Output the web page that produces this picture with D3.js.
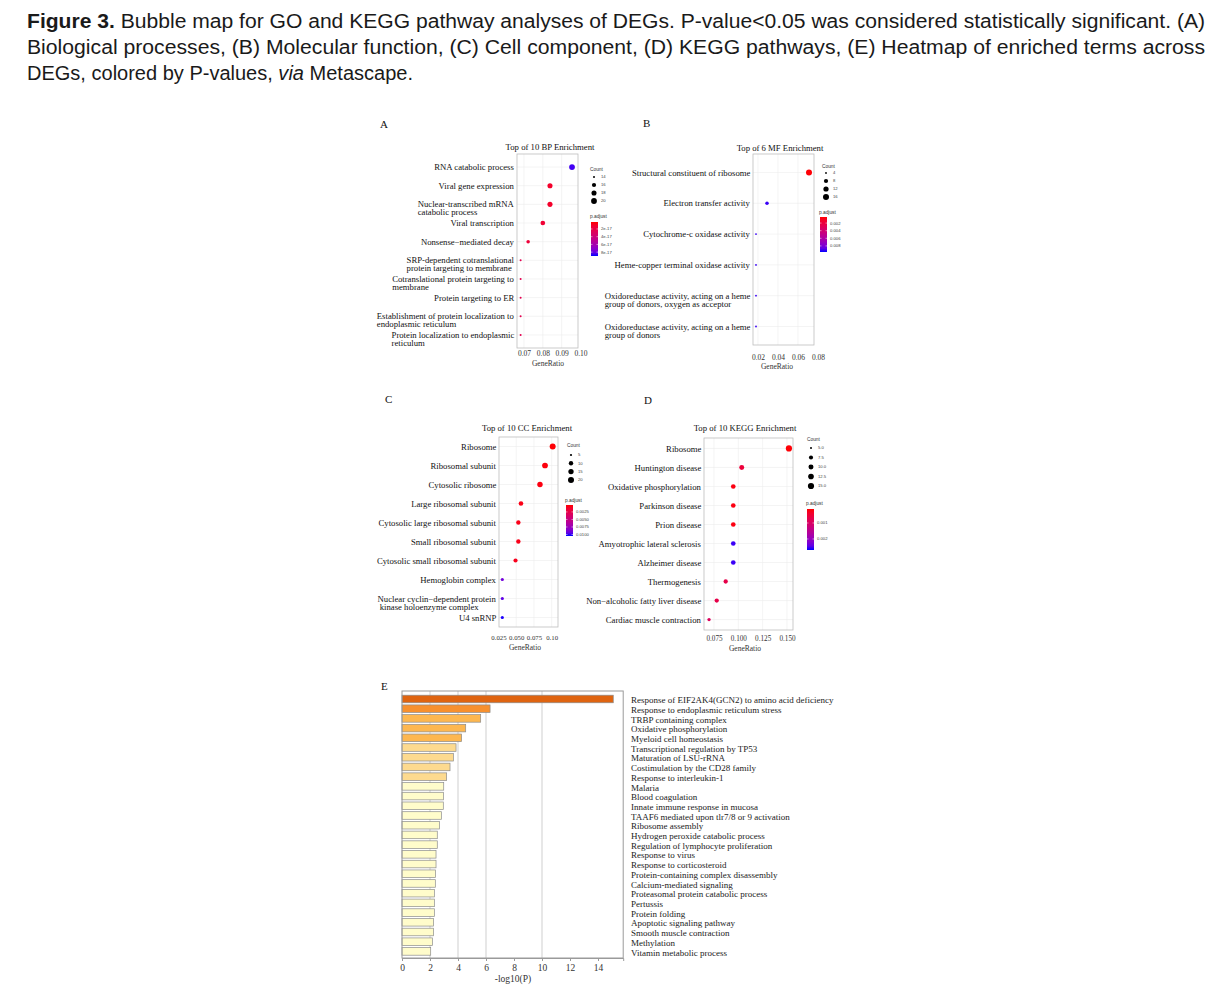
<!DOCTYPE html>
<html><head><meta charset="utf-8">
<script src="https://cdn.jsdelivr.net/npm/d3@7"></script>
<style>body{margin:0;background:#fff}svg{display:block}</style>
</head><body>
<svg id="fig" width="1219" height="1004"></svg>
<script>
// ---------------- DATA ----------------
const bpTerms = ["RNA catabolic process","Viral gene expression","Nuclear-transcribed mRNA\ncatabolic process","Viral transcription","Nonsense\u2212mediated decay","SRP-dependent cotranslational\nprotein targeting to membrane","Cotranslational protein targeting to\nmembrane","Protein targeting to ER","Establishment of protein localization to\nendoplasmic reticulum","Protein localization to endoplasmic\nreticulum"];
const bpGeneRatio = [0.0955,0.0838,0.0838,0.0800,0.0722,0.0682,0.0682,0.0682,0.0682,0.0682];
const bpCount = [20,18,18,17,15,14,14,14,14,14];
const bpPadj = [8.6e-17,1.1e-17,1.1e-17,1.4e-17,1.6e-17,2.4e-17,2.4e-17,2.4e-17,2.4e-17,2.4e-17];
const bpXTicks = [0.07,0.08,0.09,0.10];
const bpXTickLabels = ["0.07","0.08","0.09","0.10"];
const bpCountBreaks = [14,16,18,20];
const bpPadjBreaks = [2e-17,4e-17,6e-17,8e-17];
const bpPadjLabels = ["2e-17","4e-17","6e-17","8e-17"];

const mfTerms = ["Structural constituent of ribosome","Electron transfer activity","Cytochrome-c oxidase activity","Heme-copper terminal oxidase activity","Oxidoreductase activity, acting on a heme\ngroup of donors, oxygen as acceptor","Oxidoreductase activity, acting on a heme\ngroup of donors"];
const mfGeneRatio = [0.071,0.029,0.018,0.018,0.018,0.018];
const mfCount = [16,6,4,4,4,4];
const mfPadj = [0.0005,0.0093,0.0093,0.0093,0.0093,0.0093];
const mfXTicks = [0.02,0.04,0.06,0.08];
const mfXTickLabels = ["0.02","0.04","0.06","0.08"];
const mfCountBreaks = [4,8,12,16];
const mfPadjBreaks = [0.002,0.004,0.006,0.008];
const mfPadjLabels = ["0.002","0.004","0.006","0.008"];

const ccTerms = ["Ribosome","Ribosomal subunit","Cytosolic ribosome","Large ribosomal subunit","Cytosolic large ribosomal subunit","Small ribosomal subunit","Cytosolic small ribosomal subunit","Hemoglobin complex","Nuclear cyclin\u2212dependent protein\n kinase holoenzyme complex","U4 snRNP"];
const ccGeneRatio = [0.1014,0.0906,0.0835,0.0567,0.0530,0.0530,0.0490,0.0304,0.0304,0.0304];
const ccCount = [20,18,16,11,10,10,9,6,6,6];
const ccPadj = [0.0003,0.0004,0.0005,0.0006,0.0007,0.0007,0.0008,0.0090,0.0095,0.0104];
const ccXTicks = [0.025,0.05,0.075,0.10];
const ccXTickLabels = ["0.025","0.050","0.075","0.10"];
const ccCountBreaks = [5,10,15,20];
const ccPadjBreaks = [0.0025,0.005,0.0075,0.01];
const ccPadjLabels = ["0.0025","0.0050","0.0075","0.0100"];

const keggTerms = ["Ribosome","Huntington disease","Oxidative phosphorylation","Parkinson disease","Prion disease","Amyotrophic lateral sclerosis","Alzheimer disease","Thermogenesis","Non\u2212alcoholic fatty liver disease","Cardiac muscle contraction"];
const keggGeneRatio = [0.152,0.1035,0.0948,0.0948,0.0948,0.0948,0.0948,0.087,0.0778,0.0699];
const keggCount = [15,10,9,9,9,9,9,8,8,6];
const keggPadj = [0.00015,0.00055,0.0002,0.0002,0.0002,0.0026,0.0026,0.0007,0.0007,0.0009];
const keggXTicks = [0.075,0.10,0.125,0.15];
const keggXTickLabels = ["0.075","0.100","0.125","0.150"];
const keggCountBreaks = [5,7.5,10,12.5,15];
const keggCountLabels = ["5.0","7.5","10.0","12.5","15.0"];
const keggPadjBreaks = [0.001,0.002];
const keggPadjLabels = ["0.001","0.002"];

const metaTerms = ["Response of EIF2AK4(GCN2) to amino acid deficiency","Response to endoplasmic reticulum stress","TRBP containing complex","Oxidative phosphorylation","Myeloid cell homeostasis","Transcriptional regulation by TP53","Maturation of LSU-rRNA","Costimulation by the CD28 family","Response to interleukin-1","Malaria","Blood coagulation","Innate immune response in mucosa","TAAF6 mediated upon tlr7/8 or 9 activation","Ribosome assembly","Hydrogen peroxide catabolic process","Regulation of lymphocyte proliferation","Response to virus","Response to corticosteroid","Protein-containing complex disassembly","Calcium-mediated signaling","Proteasomal protein catabolic process","Pertussis","Protein folding","Apoptotic signaling pathway","Smooth muscle contraction","Methylation","Vitamin metabolic process"];
const metaLogP = [15.09,6.29,5.62,4.55,4.26,3.86,3.67,3.43,3.19,2.98,2.96,2.95,2.81,2.67,2.52,2.52,2.43,2.43,2.40,2.38,2.31,2.31,2.31,2.26,2.26,2.17,2.05];
const metaXTicks = [0,2,4,6,8,10,12,14];
const metaGrid = [2,4,6,10];
const metaBins = [3,4,6,10];
const metaBinColors = ["#fffccb","#fdda8f","#fdb750","#f7902e","#df6410"];

const captionLines = [
  [{t:"Figure 3.",b:true},{t:" Bubble map for GO and KEGG pathway analyses of DEGs. P-value<0.05 was considered statistically significant. (A)"}],
  [{t:"Biological processes, (B) Molecular function, (C) Cell component, (D) KEGG pathways, (E) Heatmap of enriched terms across"}],
  [{t:"DEGs, colored by P-values, "},{t:"via",i:true},{t:" Metascape."}]
];

// ---------------- DRAW ----------------
const SERIF = "'Liberation Serif','Times New Roman',serif";
const SANS = "'Liberation Sans',Arial,sans-serif";
const NARROW = "'Liberation Sans Narrow','Arial Narrow','Liberation Sans',Arial,sans-serif";
const svg = d3.select("#fig");
svg.append("rect").attr("width",1219).attr("height",1004).attr("fill","#fff");

// caption
const capW = [1178,1178,386];
const capY = [28,54,80];
captionLines.forEach((parts,li)=>{
  const t = svg.append("text").attr("x",27).attr("y",capY[li])
    .attr("font-family",NARROW).attr("font-size",19.5).attr("fill","#1a1a1a")
    .attr("textLength",capW[li]).attr("lengthAdjust","spacingAndGlyphs");
  parts.forEach(p=>{
    const s = t.append("tspan").text(p.t);
    if(p.b) s.attr("font-weight","bold");
    if(p.i) s.attr("font-style","italic");
  });
});

function sizeScale(domain, range){
  const norm = d3.scaleLinear().domain(domain).range([0,1]).clamp(true);
  const r = d3.scaleLinear().domain([0,1]).range(range);
  return v => r(Math.sqrt(norm(v)));
}

let gradId = 0;
function bubblePanel(c){
  const g = svg.append("g");
  const x = d3.scaleLinear().domain(c.xDomain).range([c.x0,c.x1]);
  const y = d3.scalePoint().domain(c.terms).range([c.y0,c.y1]).padding(c.pad);
  const col = d3.scaleLinear().domain(c.padjDomain).range(["#ff0000","#0000ff"]).interpolate(d3.interpolateLab).clamp(true);
  const rs = sizeScale(c.countDomain, c.sizeRange);

  g.append("text").attr("x",c.letter[0]).attr("y",c.letter[1]).text(c.letterText)
    .attr("font-family",SERIF).attr("font-size",11).attr("fill","#111");
  g.append("text").attr("x",c.titleX).attr("y",c.titleY).attr("text-anchor","middle").text(c.title)
    .attr("font-family",SERIF).attr("font-size",8.7).attr("fill","#111");

  g.append("rect").attr("x",c.x0).attr("y",c.y0).attr("width",c.x1-c.x0).attr("height",c.y1-c.y0).attr("fill","#fff");
  const grid = g.append("g").attr("stroke","#ededed").attr("stroke-width",0.6);
  grid.selectAll("line.h").data(c.terms).enter().append("line").attr("class","h")
    .attr("x1",c.x0).attr("x2",c.x1).attr("y1",d=>y(d)).attr("y2",d=>y(d));
  grid.selectAll("line.v").data(c.xTicks.filter(v=>x(v)>c.x0 && x(v)<c.x1)).enter().append("line").attr("class","v")
    .attr("y1",c.y0).attr("y2",c.y1).attr("x1",d=>x(d)).attr("x2",d=>x(d));
  g.append("rect").attr("x",c.x0).attr("y",c.y0).attr("width",c.x1-c.x0).attr("height",c.y1-c.y0)
    .attr("fill","none").attr("stroke","#bdbdbd").attr("stroke-width",0.8);

  const pts = c.terms.map((t,i)=>({t, r:c.ratio[i], n:c.count[i], p:c.padj[i]}));
  g.selectAll("circle.pt").data(pts).enter().append("circle").attr("class","pt")
    .attr("cx",d=>x(d.r)).attr("cy",d=>y(d.t)).attr("r",d=>rs(d.n)).attr("fill",d=>col(d.p));

  // y labels
  c.terms.forEach(t=>{
    const lines = t.split("\n");
    const tx = g.append("text").attr("font-family",SERIF).attr("font-size",c.labelSize).attr("fill","#111");
    lines.forEach((l,k)=>tx.append("tspan").attr("x",0).attr("y",y(t)+k*c.lineH).attr("dy","0.35em").attr("xml:space","preserve").text(l));
    const w = tx.node().getBBox().width;
    tx.attr("transform",`translate(${c.x0-2.5-w},0)`);
  });

  // x axis
  const ax = g.append("g").attr("transform",`translate(0,${c.y1})`)
    .call(d3.axisBottom(x).tickValues(c.xTicks).tickFormat((d,i)=>c.xTickLabels[i]).tickSize(0).tickPadding(c.tickPad));
  ax.select(".domain").remove();
  ax.selectAll("text").attr("font-family",SERIF).attr("font-size",c.tickSize).attr("fill","#333");
  g.append("text").attr("x",c.axisTitleX).attr("y",c.axisTitleY).attr("text-anchor","middle").text("GeneRatio")
    .attr("font-family",SERIF).attr("font-size",7.5).attr("fill","#333");

  // count legend
  const L = c.legend;
  g.append("text").attr("x",L.cx-4).attr("y",L.countTitleY).text("Count")
    .attr("font-family",SANS).attr("font-size",4.8).attr("fill","#333");
  g.selectAll("circle.lg").data(c.countBreaks).enter().append("circle").attr("class","lg")
    .attr("cx",L.cx).attr("cy",(d,i)=>L.dotY0+i*L.dotStep).attr("r",d=>rs(d)).attr("fill","#000");
  g.selectAll("text.lg").data(c.countBreaks).enter().append("text").attr("class","lg")
    .attr("x",L.cx+7).attr("y",(d,i)=>L.dotY0+i*L.dotStep).attr("dy","0.35em")
    .text((d,i)=>c.countLabels[i]).attr("font-family",SANS).attr("font-size",4.2).attr("fill","#444");

  // p.adjust colorbar
  const id = "grad"+(gradId++);
  const gr = svg.append("defs").append("linearGradient").attr("id",id).attr("x1",0).attr("x2",0).attr("y1",0).attr("y2",1);
  d3.range(0,1.0001,0.1).forEach(f=>{
    gr.append("stop").attr("offset",f).attr("stop-color",col(c.padjDomain[0]+f*(c.padjDomain[1]-c.padjDomain[0])));
  });
  const bs = d3.scaleLinear().domain(c.padjDomain).range([L.barY0,L.barY1]);
  g.append("text").attr("x",L.barX-1).attr("y",L.padjTitleY).text("p.adjust")
    .attr("font-family",SANS).attr("font-size",4.8).attr("fill","#333");
  g.append("rect").attr("x",L.barX).attr("y",L.barY0).attr("width",7).attr("height",L.barY1-L.barY0).attr("fill",`url(#${id})`);
  g.selectAll("line.bt").data(c.padjBreaks).enter().append("line").attr("class","bt")
    .attr("x1",L.barX).attr("x2",L.barX+1.5).attr("y1",d=>bs(d)).attr("y2",d=>bs(d)).attr("stroke","#fff").attr("stroke-width",0.5);
  g.selectAll("line.bt2").data(c.padjBreaks).enter().append("line").attr("class","bt2")
    .attr("x1",L.barX+5.5).attr("x2",L.barX+7).attr("y1",d=>bs(d)).attr("y2",d=>bs(d)).attr("stroke","#fff").attr("stroke-width",0.5);
  g.selectAll("text.bl").data(c.padjBreaks).enter().append("text").attr("class","bl")
    .attr("x",L.barX+10).attr("y",d=>bs(d)).attr("dy","0.35em").text((d,i)=>c.padjLabels[i])
    .attr("font-family",SANS).attr("font-size",4.2).attr("fill","#444");
}

bubblePanel({
  letterText:"A", letter:[380,128], title:"Top of 10 BP Enrichment", titleX:550, titleY:150,
  terms:bpTerms, ratio:bpGeneRatio, count:bpCount, padj:bpPadj,
  x0:517, x1:578, y0:154, y1:348, pad:0.7, xDomain:[0.06628,0.09868],
  xTicks:bpXTicks, xTickLabels:bpXTickLabels, tickPad:3, tickSize:7.5, axisTitleX:548, axisTitleY:366,
  labelSize:8.7, lineH:8,
  padjDomain:[0.2e-17,9.0e-17], countDomain:[14,20], sizeRange:[1.0,2.9],
  countBreaks:bpCountBreaks, countLabels:bpCountBreaks.map(String),
  padjBreaks:bpPadjBreaks, padjLabels:bpPadjLabels,
  legend:{cx:594, countTitleY:171, dotY0:177, dotStep:8, barX:591, padjTitleY:218, barY0:222, barY1:256}
});
bubblePanel({
  letterText:"B", letter:[643,126.5], title:"Top of 6 MF Enrichment", titleX:780, titleY:151,
  terms:mfTerms, ratio:mfGeneRatio, count:mfCount, padj:mfPadj,
  x0:753, x1:814, y0:154, y1:345, pad:0.6, xDomain:[0.015,0.076],
  xTicks:mfXTicks, xTickLabels:mfXTickLabels, tickPad:10, tickSize:7.5, axisTitleX:777, axisTitleY:369,
  labelSize:8.7, lineH:8,
  padjDomain:[0.0004,0.0096], countDomain:[4,16], sizeRange:[0.9,3.0],
  countBreaks:mfCountBreaks, countLabels:mfCountBreaks.map(String),
  padjBreaks:mfPadjBreaks, padjLabels:mfPadjLabels,
  legend:{cx:826, countTitleY:168, dotY0:173, dotStep:8, barX:820, padjTitleY:214, barY0:217, barY1:252}
});
bubblePanel({
  letterText:"C", letter:[385,403], title:"Top of 10 CC Enrichment", titleX:527, titleY:431,
  terms:ccTerms, ratio:ccGeneRatio, count:ccCount, padj:ccPadj,
  x0:499, x1:558, y0:437, y1:627, pad:0.5, xDomain:[0.02571,0.10892],
  xTicks:ccXTicks, xTickLabels:ccXTickLabels, tickPad:8, tickSize:6.8, axisTitleX:525, axisTitleY:650,
  labelSize:8.7, lineH:8,
  padjDomain:[0.0002,0.0105], countDomain:[5,20], sizeRange:[1.1,3.0],
  countBreaks:ccCountBreaks, countLabels:ccCountBreaks.map(String),
  padjBreaks:ccPadjBreaks, padjLabels:ccPadjLabels,
  legend:{cx:571, countTitleY:447, dotY0:455, dotStep:8.3, barX:566, padjTitleY:502, barY0:505, barY1:536}
});
bubblePanel({
  letterText:"D", letter:[644,404], title:"Top of 10 KEGG Enrichment", titleX:745, titleY:431,
  terms:keggTerms, ratio:keggGeneRatio, count:keggCount, padj:keggPadj,
  x0:704, x1:793, y0:438, y1:630, pad:0.55, xDomain:[0.06472,0.15619],
  xTicks:keggXTicks, xTickLabels:keggXTickLabels, tickPad:6, tickSize:7.2, axisTitleX:745, axisTitleY:651,
  labelSize:8.7, lineH:8,
  padjDomain:[0.000125,0.00269], countDomain:[5,15], sizeRange:[1.0,3.1],
  countBreaks:keggCountBreaks, countLabels:keggCountLabels,
  padjBreaks:keggPadjBreaks, padjLabels:keggPadjLabels,
  legend:{cx:811, countTitleY:441, dotY0:448, dotStep:9.5, barX:807, padjTitleY:505, barY0:509, barY1:550}
});

// ---------------- PANEL E ----------------
(function(){
  const g = svg.append("g");
  const X0 = 402, X1 = 623.2, Y0 = 691, Y1 = 958;
  const x = d3.scaleLinear().domain([0,15.8]).range([X0,X1]);
  const y = d3.scaleBand().domain(metaTerms).range([695.2,955.2]).paddingInner(0.22);
  const color = d3.scaleThreshold().domain(metaBins).range(metaBinColors);

  g.append("text").attr("x",381).attr("y",690).text("E").attr("font-family",SERIF).attr("font-size",11).attr("fill","#111");
  g.selectAll("line.gr").data(metaGrid).enter().append("line").attr("class","gr")
    .attr("x1",d=>x(d)).attr("x2",d=>x(d)).attr("y1",Y0).attr("y2",Y1).attr("stroke","#cfcfcf").attr("stroke-width",1);
  g.selectAll("rect.bar").data(metaTerms).enter().append("rect").attr("class","bar")
    .attr("x",x(0)).attr("y",d=>y(d)).attr("height",y.bandwidth())
    .attr("width",(d,i)=>x(metaLogP[i])-x(0))
    .attr("fill",(d,i)=>color(metaLogP[i])).attr("stroke","#8c8c8c").attr("stroke-width",0.7);
  g.append("rect").attr("x",X0).attr("y",Y0).attr("width",X1-X0).attr("height",Y1-Y0)
    .attr("fill","none").attr("stroke","#9a9a9a").attr("stroke-width",1);
  const ax = g.append("g").attr("transform",`translate(0,${Y1})`)
    .call(d3.axisBottom(x).tickValues(metaXTicks).tickFormat(d3.format("d")).tickSize(3).tickPadding(3));
  ax.select(".domain").attr("stroke","#9a9a9a");
  ax.selectAll(".tick line").attr("stroke","#9a9a9a");
  ax.selectAll("text").attr("font-family",SERIF).attr("font-size",9.5).attr("fill","#333");
  g.append("text").attr("x",513).attr("y",982).attr("text-anchor","middle").text("-log10(P)")
    .attr("font-family",SERIF).attr("font-size",9.5).attr("fill","#333");
  g.selectAll("text.lab").data(metaTerms).enter().append("text").attr("class","lab")
    .attr("x",631).attr("y",d=>y(d)+y.bandwidth()/2+1).attr("dy","0.35em").text(d=>d)
    .attr("font-family",SERIF).attr("font-size",9).attr("fill","#222");
})();
</script>
</body></html>
